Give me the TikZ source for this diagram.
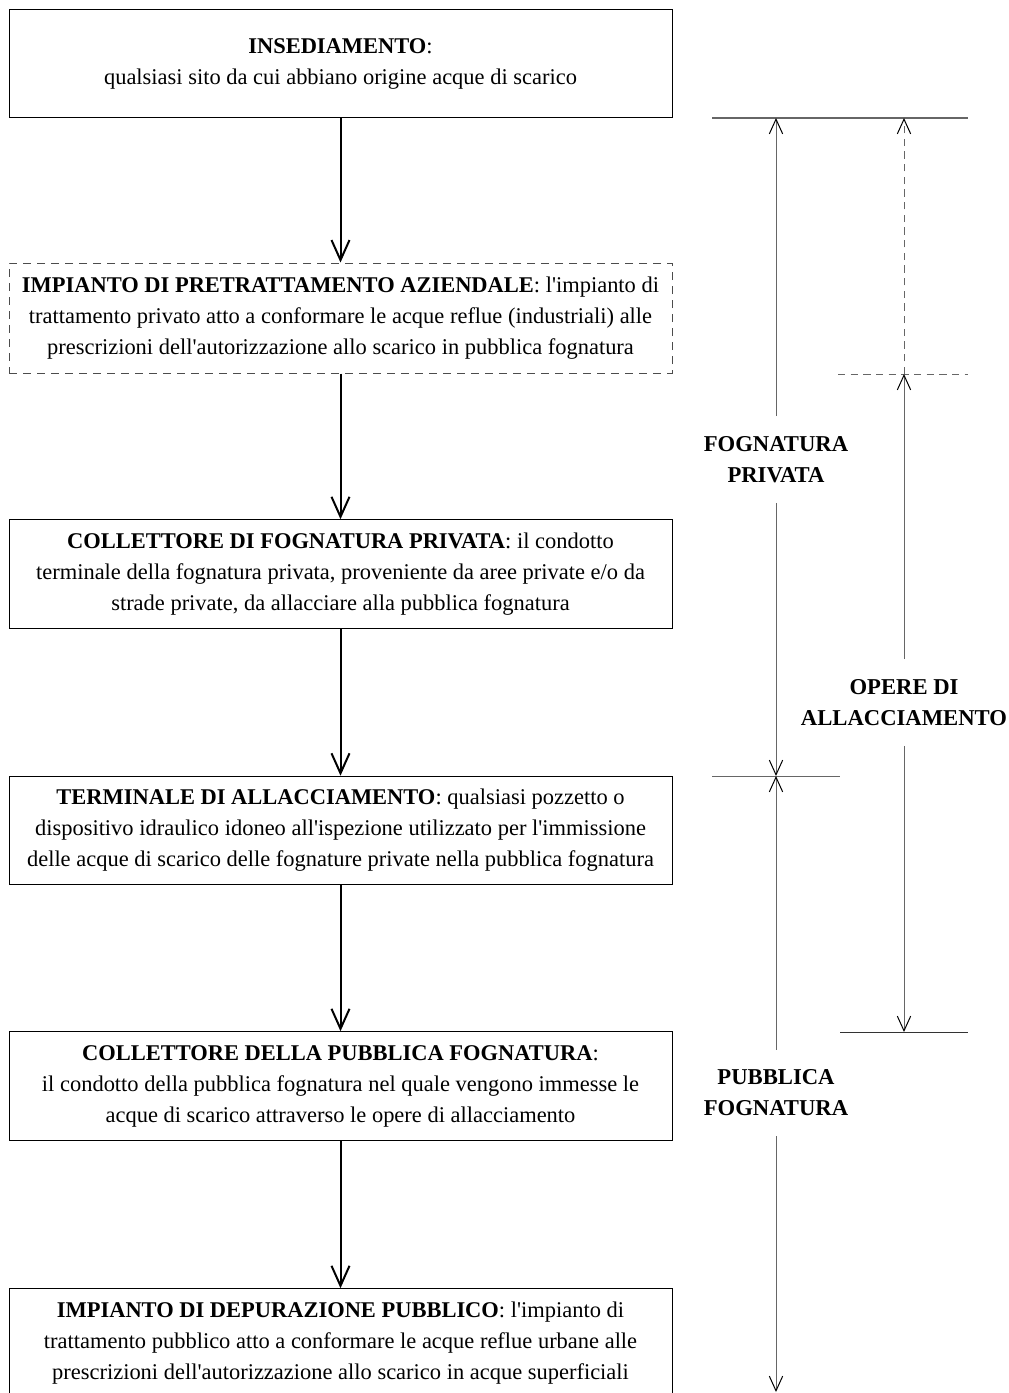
\documentclass[tikz,border=0pt]{standalone}
\usepackage{fontspec}
\setmainfont{Liberation Serif}
\usetikzlibrary{arrows.meta}

\tikzset{
  blocco/.style={draw, line width=0.75pt, minimum width=497.25pt, minimum height=81.4pt,
    inner sep=0pt, align=center, font=\fontsize{16.85}{23.25}\selectfont},
  facoltativo/.style={blocco, draw=black!70, dash pattern=on 6pt off 4.5pt},
  freccia/.style={-{Straight Barb[length=15pt,width=13.5pt]}, line width=1.5pt},
  quota/.style={draw=black!60, line width=0.75pt},
  tratteggio/.style={quota, dash pattern=on 5.5pt off 4pt},
  punta/.style={-{Straight Barb[length=11pt,width=10pt,black]}},
  etichetta/.style={align=center, font=\fontsize{17}{23.25}\selectfont\bfseries,
    inner xsep=0pt, inner ysep=15pt},
}

\begin{document}
\begin{tikzpicture}[x=0.75pt, y=-0.75pt]
			\useasboundingbox (0,0) rectangle (1008,1393);
			\clip (0,0) rectangle (1008,1393);
			% blocchi
			\node[blocco] (insediamento) at (340.5,63.5)
			{\textbf{INSEDIAMENTO}:\\qualsiasi sito da cui abbiano origine acque di scarico};
			\node[facoltativo, minimum height=82.5pt] (pretrattamento) at (340.5,318)
			{\textbf{IMPIANTO DI PRETRATTAMENTO AZIENDALE}: l\textquotesingle impianto di\\
			trattamento privato atto a conformare le acque reflue (industriali) alle\\
			prescrizioni dell\textquotesingle autorizzazione allo scarico in pubblica fognatura};
			\node[blocco] (collprivato) at (340.5,574)
			{\textbf{COLLETTORE DI FOGNATURA PRIVATA}: il condotto\\
			terminale della fognatura privata, proveniente da aree private e/o da\\
			strade private, da allacciare alla pubblica fognatura};
			\node[blocco] (terminale) at (340.5,830.5)
			{\textbf{TERMINALE DI ALLACCIAMENTO}: qualsiasi pozzetto o\\
			dispositivo idraulico idoneo all\textquotesingle ispezione utilizzato per l\textquotesingle immissione\\
			delle acque di scarico delle fognature private nella pubblica fognatura};
			\node[blocco] (collpubblico) at (340.5,1086)
			{\textbf{COLLETTORE DELLA PUBBLICA FOGNATURA}:\\
			il condotto della pubblica fognatura nel quale vengono immesse le\\
			acque di scarico attraverso le opere di allacciamento};
			\node[blocco] (depuratore) at (340.5,1343)
			{\textbf{IMPIANTO DI DEPURAZIONE PUBBLICO}: l\textquotesingle impianto di\\
			trattamento pubblico atto a conformare le acque reflue urbane alle\\
			prescrizioni dell\textquotesingle autorizzazione allo scarico in acque superficiali};
			% frecce
			\draw[freccia] (insediamento) -- (pretrattamento);
			\draw[freccia] (pretrattamento) -- (collprivato);
			\draw[freccia] (collprivato) -- (terminale);
			\draw[freccia] (terminale) -- (collpubblico);
			\draw[freccia] (collpubblico) -- (depuratore);
			% quote
			\coordinate (lim1a) at (712,118);
			\coordinate (lim1b) at (968,118);
			\coordinate (lim2a) at (838,374);
			\coordinate (lim2b) at (968,374);
			\coordinate (lim3a) at (712,776);
			\coordinate (lim3b) at (840,776);
			\coordinate (lim4a) at (840,1032);
			\coordinate (lim4b) at (968,1032);
			\coordinate (priv1) at (776,118);
			\coordinate (priv2) at (776,776);
			\coordinate (pubb2) at (776,1392);
			\coordinate (all0) at (904,118);
			\coordinate (all1) at (904,374);
			\coordinate (all2) at (904,1032);
			\draw[quota, line width=1.5pt] (lim1a) -- (lim1b);
			\draw[tratteggio] (lim2a) -- (lim2b);
			\draw[quota] (lim3a) -- (lim3b);
			\draw[quota, draw=black!80] (lim4a) -- (lim4b);
			\node[etichetta] (fprivata) at (776,459.5) {FOGNATURA\\PRIVATA};
			\node[etichetta] (opere) at (904,702.5) {OPERE DI\\ALLACCIAMENTO};
			\node[etichetta] (fpubblica) at (776,1093) {PUBBLICA\\FOGNATURA};
			\draw[quota, punta] (fprivata.north) -- (priv1);
			\draw[quota, punta] (fprivata.south) -- (priv2);
			\draw[quota, punta] (fpubblica.north) -- (priv2);
			\draw[quota, punta] (fpubblica.south) -- (pubb2);
			\draw[tratteggio, punta] (all1) -- (all0);
			\draw[quota, punta] (opere.north) -- (all1);
			\draw[quota, punta] (opere.south) -- (all2);
		\end{tikzpicture}
\end{document}
